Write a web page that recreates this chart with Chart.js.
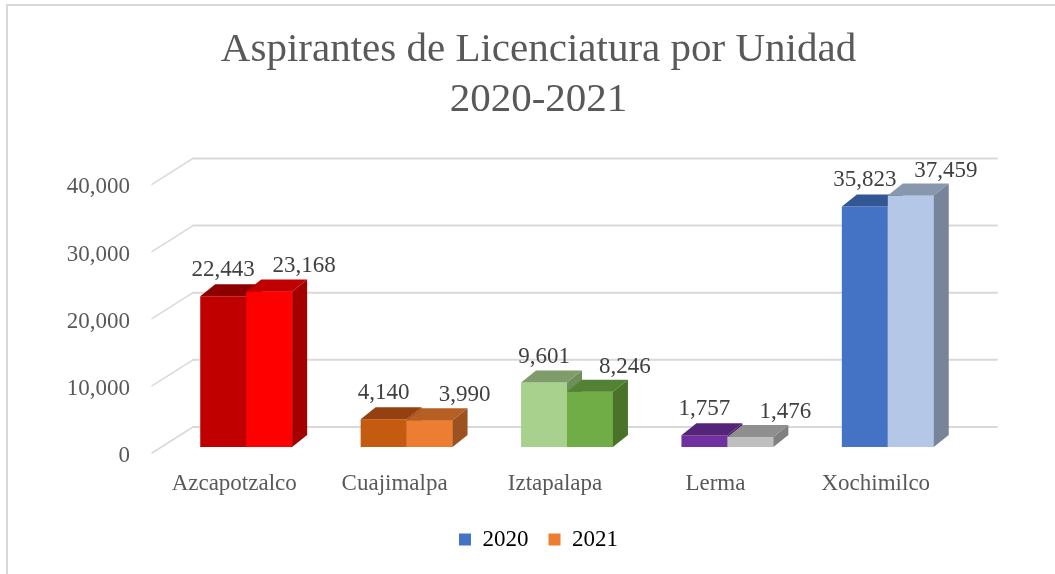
<!DOCTYPE html>
<html lang="es">
<head>
    <meta charset="UTF-8">
    <title>Aspirantes de Licenciatura por Unidad 2020-2021</title>
    <script src="https://cdn.jsdelivr.net/npm/chart.js"></script>
    <style>
        body {
            margin: 0;
            padding: 0;
            overflow: hidden;
            background: #ffffff;
            font-family: "Liberation Serif", serif;
        }
        #marco {
            position: absolute;
            left: 6px;
            top: 4px;
            width: 1200px;
            height: 800px;
            border: 2px solid #d9d9d9;
            pointer-events: none;
        }
        #contenedor {
            position: relative;
            width: 1055px;
            height: 574px;
        }
    </style>
</head>
<body>
    <div id="contenedor">
        <canvas id="grafico"></canvas>
    </div>
    <div id="marco"></div>

    <script>
        // datos
        const unidades = ["Azcapotzalco", "Cuajimalpa", "Iztapalapa", "Lerma", "Xochimilco"];
        const anios = ["2020", "2021"];
        const aspirantes2020 = [22443, 4140, 9601, 1757, 35823];
        const aspirantes2021 = [23168, 3990, 8246, 1476, 37459];
        const ticksY = [0, 10000, 20000, 30000, 40000];

        // colores: frente, cara superior, cara lateral
        const frente2020 = ["#c00000", "#c55a11", "#a9d18e", "#7030a0", "#4472c4"];
        const arriba2020 = ["#8c0000", "#954010", "#7f9d6b", "#542478", "#335694"];
        const lado2020 = ["#900000", "#94440d", "#6e8e5a", "#4a1f6b", "#2e4f8a"];
        const frente2021 = ["#ff0000", "#ed7d31", "#70ad47", "#bfbfbf", "#b4c7e7"];
        const arriba2021 = ["#c00000", "#b55f25", "#548235", "#8f8f8f", "#8797ae"];
        const lado2021 = ["#a50000", "#9c5220", "#4a7329", "#808080", "#77849a"];
        const coloresLeyenda = ["#4472c4", "#ed7d31"];

        const gris = "#595959";
        const fmt = v => v.toLocaleString("en-US");

        // profundidad de las barras y de la pared del fondo
        const PX = 15, PY = -12;
        const fondo = { izq: 27, der: 29, dy: -20 };
        const frenteEje = { dx: -14, dy: 6 };

        function cara(ctx, puntos, color) {
            ctx.beginPath();
            ctx.moveTo(puntos[0][0], puntos[0][1]);
            for (let i = 1; i < puntos.length; i++) ctx.lineTo(puntos[i][0], puntos[i][1]);
            ctx.closePath();
            ctx.fillStyle = color;
            ctx.fill();
        }

        function caras(ctx, barra, arriba, lado) {
            const p = barra.getProps(["x", "y", "base", "width"], true);
            const x0 = p.x - p.width / 2, x1 = p.x + p.width / 2;
            cara(ctx, [[x0, p.y], [x1, p.y], [x1 + PX, p.y + PY], [x0 + PX, p.y + PY]], arriba);
            cara(ctx, [[x1, p.y], [x1 + PX, p.y + PY], [x1 + PX, p.base + PY], [x1, p.base]], lado);
        }

        const efecto3d = {
            id: "efecto3d",
            beforeDatasetsDraw(chart) {
                const ctx = chart.ctx;
                const area = chart.chartArea;
                const y = chart.scales.y;
                ctx.save();
                ctx.strokeStyle = "#d9d9d9";
                ctx.lineCap = "round";
                ticksY.forEach(v => {
                    const py = y.getPixelForValue(v);
                    ctx.lineWidth = 2;
                    ctx.beginPath();
                    ctx.moveTo(area.left + fondo.izq, py + fondo.dy);
                    ctx.lineTo(area.right + fondo.der, py + fondo.dy);
                    ctx.stroke();
                    ctx.lineWidth = 1.5;
                    ctx.beginPath();
                    ctx.moveTo(area.left + frenteEje.dx, py + frenteEje.dy);
                    ctx.lineTo(area.left + fondo.izq, py + fondo.dy);
                    ctx.stroke();
                });
                ctx.restore();
            },
            afterDatasetsDraw(chart) {
                const ctx = chart.ctx;
                const m0 = chart.getDatasetMeta(0);
                const m1 = chart.getDatasetMeta(1);
                ctx.save();
                unidades.forEach((u, i) => {
                    caras(ctx, m0.data[i], arriba2020[i], lado2020[i]);
                    m1.data[i].draw(ctx);
                    caras(ctx, m1.data[i], arriba2021[i], lado2021[i]);
                });
                ctx.font = "23px 'Liberation Serif', serif";
                ctx.fillStyle = "#404040";
                ctx.textAlign = "center";
                ctx.textBaseline = "middle";
                unidades.forEach((u, i) => {
                    const a = m0.data[i].getProps(["x", "y"], true);
                    const b = m1.data[i].getProps(["x", "y"], true);
                    ctx.fillText(fmt(aspirantes2020[i]), a.x, a.y - 26);
                    ctx.fillText(fmt(aspirantes2021[i]), b.x + 35, b.y - 25);
                });
                ctx.restore();
            }
        };

        Chart.defaults.font.family = "'Liberation Serif', serif";
        Chart.defaults.color = gris;

        const ctx = document.getElementById("grafico").getContext("2d");
        new Chart(ctx, {
            type: "bar",
            data: {
                labels: unidades,
                datasets: [
                    { label: anios[0], data: aspirantes2020, backgroundColor: frente2020 },
                    { label: anios[1], data: aspirantes2021, backgroundColor: frente2021 }
                ]
            },
            options: {
                responsive: true,
                maintainAspectRatio: false,
                animation: false,
                categoryPercentage: 0.573,
                barPercentage: 1.0,
                layout: { padding: { left: 22, right: 0, top: 0, bottom: 13 } },
                plugins: {
                    tooltip: { enabled: false },
                    title: {
                        display: true,
                        text: ["Aspirantes de Licenciatura por Unidad", "2020-2021"],
                        color: gris,
                        font: { size: 41, weight: "normal", lineHeight: 1.2 },
                        padding: { top: 26, bottom: 54 }
                    },
                    legend: {
                        position: "bottom",
                        labels: {
                            boxWidth: 12,
                            boxHeight: 12,
                            padding: 20,
                            color: gris,
                            font: { size: 23 },
                            generateLabels: chart => anios.map((a, i) => ({
                                text: a,
                                fillStyle: coloresLeyenda[i],
                                strokeStyle: coloresLeyenda[i],
                                lineWidth: 0,
                                datasetIndex: i
                            }))
                        }
                    }
                },
                scales: {
                    x: {
                        grid: { display: false },
                        border: { display: false },
                        ticks: { color: gris, font: { size: 23 }, padding: 15, labelOffset: -12, maxRotation: 0 },
                        afterFit: s => { s.height = 61; }
                    },
                    y: {
                        min: ticksY[0],
                        max: ticksY[ticksY.length - 1],
                        grid: { display: false },
                        border: { display: false },
                        ticks: {
                            stepSize: ticksY[1] - ticksY[0],
                            color: gris,
                            font: { size: 23 },
                            padding: 28,
                            labelOffset: 9,
                            callback: v => fmt(v)
                        },
                        afterFit: s => { s.width = 144; }
                    },
                    derecha: {
                        position: "right",
                        display: true,
                        grid: { display: false },
                        border: { display: false },
                        ticks: { display: false },
                        afterFit: s => { s.width = 87; }
                    }
                }
            },
            plugins: [efecto3d]
        });
    </script>
</body>
</html>
